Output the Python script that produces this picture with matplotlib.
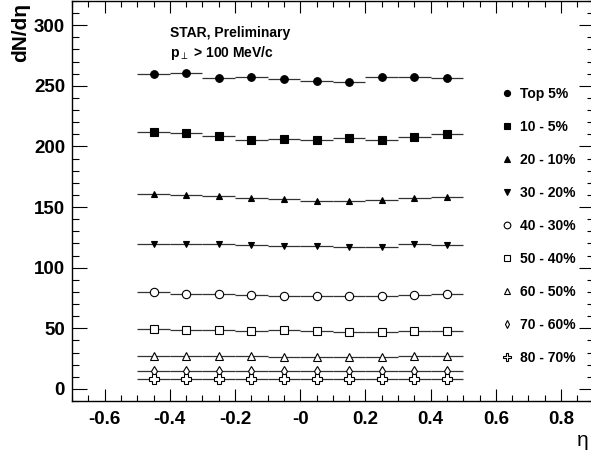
import matplotlib
matplotlib.use("Agg")
import matplotlib.pyplot as plt
from matplotlib.lines import Line2D
from matplotlib.ticker import MultipleLocator, FixedLocator, FixedFormatter

plt.rcParams['font.family'] = ['Liberation Sans', 'DejaVu Sans']

# ---- data ----
eta = [-0.45, -0.35, -0.25, -0.15, -0.05, 0.05, 0.15, 0.25, 0.35, 0.45]
eta_halfwidth = 0.05
top5  = [259.6, 261.0, 256.1, 257.7, 255.5, 253.9, 252.8, 256.9, 257.7, 256.1]
c10_5 = [212.1, 211.2, 208.8, 205.2, 206.3, 205.5, 206.6, 205.0, 207.4, 210.2]
c20_10 = [160.7, 159.6, 158.8, 157.7, 156.3, 154.7, 155.0, 156.0, 157.4, 158.5]
c30_20 = [119.8, 119.3, 119.3, 118.7, 118.1, 117.9, 117.0, 117.0, 119.5, 118.7]
c40_30 = [79.9, 78.0, 78.0, 77.5, 76.9, 76.4, 76.6, 76.4, 77.2, 78.0]
c50_40 = [49.5, 48.9, 48.6, 48.1, 48.4, 48.1, 46.7, 47.2, 48.1, 48.1]
c60_50 = [27.2, 27.0, 27.0, 27.0, 26.6, 26.6, 26.3, 26.3, 27.0, 27.0]
c70_60 = [14.8, 14.7, 14.6, 14.6, 14.5, 14.5, 14.5, 14.5, 14.6, 14.7]
c80_70 = [8.3, 8.3, 8.2, 8.2, 8.1, 8.1, 8.1, 8.2, 8.2, 8.3]

labels = ["Top 5%", "10 - 5%", "20 - 10%", "30 - 20%", "40 - 30%",
          "50 - 40%", "60 - 50%", "70 - 60%", "80 - 70%"]
series = [top5, c10_5, c20_10, c30_20, c40_30, c50_40, c60_50, c70_60, c80_70]

xtick_vals = [-0.6, -0.4, -0.2, 0.0, 0.2, 0.4, 0.6, 0.8]
xtick_labels = ["-0.6", "-0.4", "-0.2", "-0", "0.2", "0.4", "0.6", "0.8"]
ytick_vals = [0, 50, 100, 150, 200, 250, 300]

# ---- styles ----
markers = ['o', 's', '^', 'v', 'o', 's', '^', 'd', 'P']
filled = [True, True, True, True, False, False, False, False, False]
msizes = [5.5, 5.5, 5.0, 5.0, 6.0, 6.0, 6.0, 5.0, 6.5]

W, H = 591, 453
fig = plt.figure(figsize=(W / 100, H / 100), dpi=100)
ax = fig.add_axes([72 / W, 52 / H, 521.6 / W, 400 / H])

for ys, m, f, ms in zip(series, markers, filled, msizes):
    ax.errorbar(eta, ys, xerr=eta_halfwidth, fmt=m, color='black',
                ecolor='#333333', elinewidth=0.9, capsize=0, ms=ms,
                mfc='black' if f else 'white', mec='black', mew=0.8,
                zorder=3)

ax.set_xlim(-0.7, 0.9)
ax.set_ylim(-10, 320)

ax.xaxis.set_major_locator(FixedLocator(xtick_vals))
ax.xaxis.set_major_formatter(FixedFormatter(xtick_labels))
ax.xaxis.set_minor_locator(MultipleLocator(0.05))
ax.yaxis.set_major_locator(FixedLocator(ytick_vals))
ax.yaxis.set_minor_locator(MultipleLocator(10))

ax.tick_params(axis='both', which='both', direction='in', top=True, right=True,
               width=0.8, colors='black')
ax.tick_params(axis='x', which='major', length=8.6, pad=7.5)
ax.tick_params(axis='x', which='minor', length=4.3)
ax.tick_params(axis='y', which='major', length=10.8, pad=5)
ax.tick_params(axis='y', which='minor', length=5.0)
for lab in ax.get_xticklabels() + ax.get_yticklabels():
    lab.set_fontsize(13.5)
    lab.set_fontweight('bold')

for s in ax.spines.values():
    s.set_linewidth(1.0)

fig.text(21 / W, 1 - 3 / H, "dN/dη", rotation=90, ha='center', va='top',
         fontsize=15, fontweight='bold')
fig.text(583 / W, 1 - 440 / H, "η", ha='center', va='center', fontsize=15)

ax.text(170 / W, 1 - 33 / H, "STAR, Preliminary", transform=fig.transFigure,
        ha='left', va='center', fontsize=10, fontweight='bold')
ax.text(170 / W, 1 - 53 / H, r"p$_{\perp}$ > 100 MeV/c", transform=fig.transFigure,
        ha='left', va='center', fontsize=10, fontweight='bold')

handles = [Line2D([], [], ls='none', marker=m, color='black',
                  mfc='black' if f else 'white', mec='black', mew=0.8, ms=ms * 0.8)
           for m, f, ms in zip(markers, filled, msizes)]
leg = ax.legend(handles, labels, loc='upper left',
                bbox_to_anchor=(503 / W, 1 - 87 / H), bbox_transform=fig.transFigure,
                frameon=False, handlelength=0.6, handletextpad=0.6,
                labelspacing=1.37, borderpad=0, borderaxespad=0,
                prop={'size': 10, 'weight': 'bold'})

fig.savefig("out.png", dpi=100)
